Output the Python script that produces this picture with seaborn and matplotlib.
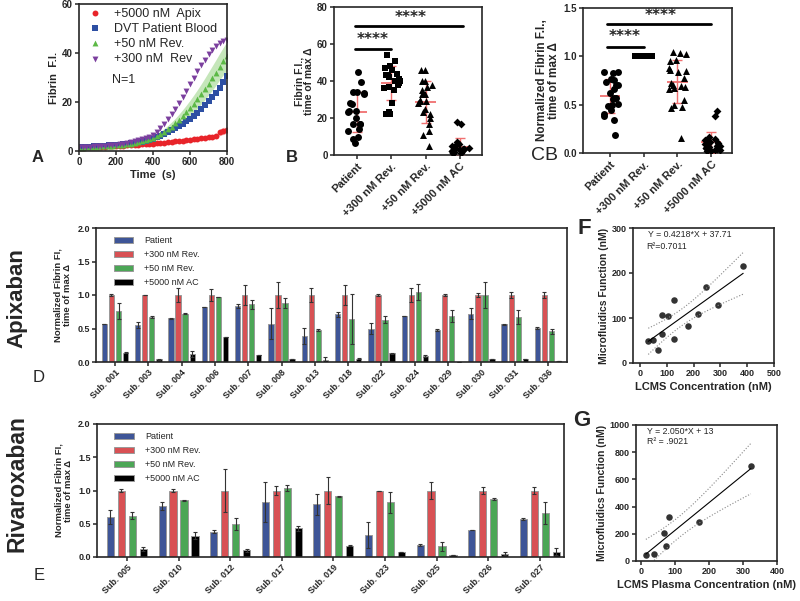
import numpy as np
import pandas as pd
import seaborn as sns
import matplotlib.pyplot as plt

sns.set_style("ticks")
plt.rcParams['font.family'] = ['Liberation Sans', 'DejaVu Sans']
plt.rcParams['font.weight'] = 'bold'
plt.rcParams['axes.labelweight'] = 'bold'
plt.rcParams['axes.linewidth'] = 1.2

# ---------------- Panel A: time course (N=1) ----------------
time_s = list(range(0, 801, 20))
apix_5000 = [1.3, 1.4, 1.5, 1.6, 1.6, 1.7, 1.8, 1.8, 1.9, 2.0, 2.0, 2.1, 2.2, 2.3, 2.4, 2.5,
             2.6, 2.7, 2.8, 2.9, 3.0, 3.1, 3.3, 3.4, 3.5, 3.7, 3.9, 4.0, 4.2, 4.4, 4.6, 4.8,
             5.0, 5.2, 5.4, 5.6, 5.8, 6.1, 7.6, 8.2, 8.4]
apix_5000_sd = [0.2] * 20 + [0.3] * 17 + [0.5, 1.4, 1.5, 1.2]
dvt_blood = [1.5, 1.6, 1.7, 1.8, 1.9, 2.0, 2.1, 2.2, 2.3, 2.4, 2.5, 2.6, 2.8, 2.9, 3.1, 3.3,
             3.5, 3.8, 4.1, 4.5, 5.0, 5.6, 6.2, 6.9, 7.6, 8.4, 9.2, 10.1, 11.1, 12.1, 13.2,
             14.4, 15.7, 17.1, 18.6, 20.3, 22.0, 23.8, 25.8, 28.0, 30.5]
rev_50 = [1.3, 1.4, 1.5, 1.6, 1.7, 1.8, 1.9, 2.0, 2.1, 2.2, 2.3, 2.5, 2.6, 2.8, 3.0, 3.2,
          3.5, 3.9, 4.3, 4.8, 5.4, 6.1, 6.9, 7.8, 8.9, 10.0, 11.3, 12.7, 14.2, 15.8, 17.5,
          19.3, 21.2, 23.2, 25.3, 27.5, 29.7, 32.0, 34.4, 36.7, 38.8]
rev_50_sd = [0.1] * 16 + [0.2, 0.3, 0.4, 0.5, 0.7, 0.9, 1.1, 1.3, 1.5, 1.8, 2.0, 2.3, 2.6,
                          2.9, 3.2, 3.5, 3.8, 4.1, 4.4, 4.7, 5.0, 5.2, 5.4, 5.6, 5.8]
rev_300 = [1.5, 1.6, 1.7, 1.8, 1.9, 2.0, 2.1, 2.2, 2.3, 2.4, 2.6, 2.8, 3.0, 3.3, 3.6, 4.0,
           4.4, 4.8, 5.3, 5.9, 6.6, 7.8, 9.3, 11.0, 12.9, 15.0, 17.2, 19.6, 22.0, 24.6, 27.3,
           30.0, 32.6, 35.0, 37.3, 39.4, 41.2, 42.8, 44.0, 44.8, 45.2]

# ---------------- Panels B / C: scatter dot plots ----------------
groups = ['Patient', '+300 nM Rev.', '+50 nM Rev.', '+5000 nM AC']
b_patient = [45, 39.5, 34, 34, 33, 33.5, 28, 27.5, 24, 24, 23, 20, 17, 17, 16.5, 14, 13, 10, 8.5, 6.5]
b_rev300 = [54, 51, 48, 47, 46, 44, 43, 43, 42, 41, 40, 40, 39, 38, 37, 36, 35, 28, 23, 22, 22]
b_rev50 = [46, 46, 40, 40, 38, 37, 35, 33, 33, 30, 29, 29, 28, 25, 23, 22, 20, 17, 13, 11, 5]
b_ac = [18, 17, 7, 6, 5, 5, 4, 4, 3, 3, 3, 2.5, 2, 2, 2, 1.5, 1.5, 1, 1, 1]

c_patient = [0.84, 0.84, 0.83, 0.77, 0.76, 0.73, 0.70, 0.70, 0.66, 0.62, 0.57, 0.57, 0.56,
             0.51, 0.50, 0.49, 0.45, 0.40, 0.38, 0.34, 0.19]
c_rev300 = [1.0] * 21
c_rev50 = [1.04, 1.03, 1.02, 0.96, 0.95, 0.88, 0.86, 0.85, 0.84, 0.78, 0.72, 0.70, 0.69,
           0.68, 0.67, 0.66, 0.55, 0.50, 0.48, 0.47, 0.16]
c_ac = [0.43, 0.38, 0.17, 0.15, 0.13, 0.12, 0.11, 0.10, 0.09, 0.08, 0.07, 0.07, 0.06, 0.05,
        0.05, 0.04, 0.03, 0.03, 0.02, 0.02]

# ---------------- Panel D: Apixaban subjects ----------------
apix_subjects = ['Sub. 001', 'Sub. 003', 'Sub. 004', 'Sub. 006', 'Sub. 007', 'Sub. 008', 'Sub. 013',
                 'Sub. 018', 'Sub. 022', 'Sub. 024', 'Sub. 029', 'Sub. 030', 'Sub. 031', 'Sub. 036']
apix_pat = [0.57, 0.55, 0.65, 0.82, 0.83, 0.57, 0.39, 0.71, 0.50, 0.69, 0.48, 0.72, 0.56, 0.51]
apix_pat_sd = [0.0, 0.04, 0.01, 0.0, 0.03, 0.23, 0.12, 0.04, 0.08, 0.0, 0.02, 0.08, 0.01, 0.01]
apix_r300 = [1.0] * 14
apix_r300_sd = [0.02, 0.0, 0.1, 0.09, 0.15, 0.19, 0.11, 0.15, 0.01, 0.1, 0.02, 0.03, 0.04, 0.05]
apix_r50 = [0.76, 0.67, 0.72, 0.97, 0.86, 0.88, 0.48, 0.64, 0.63, 1.04, 0.69, 1.0, 0.67, 0.46]
apix_r50_sd = [0.12, 0.02, 0.01, 0.0, 0.07, 0.07, 0.01, 0.37, 0.05, 0.12, 0.09, 0.2, 0.1, 0.04]
apix_ac = [0.14, 0.04, 0.12, 0.38, 0.10, 0.05, 0.03, 0.05, 0.13, 0.09, 0.0, 0.04, 0.04, 0.02]
apix_ac_sd = [0.01, 0.01, 0.04, 0.0, 0.0, 0.0, 0.05, 0.01, 0.01, 0.01, 0.0, 0.0, 0.0, 0.0]

# ---------------- Panel E: Rivaroxaban subjects ----------------
riva_subjects = ['Sub. 005', 'Sub. 010', 'Sub. 012', 'Sub. 017', 'Sub. 019', 'Sub. 023',
                 'Sub. 025', 'Sub. 026', 'Sub. 027']
riva_pat = [0.60, 0.76, 0.38, 0.83, 0.79, 0.33, 0.18, 0.41, 0.57]
riva_pat_sd = [0.10, 0.06, 0.02, 0.30, 0.16, 0.19, 0.01, 0.0, 0.01]
riva_r300 = [1.0] * 9
riva_r300_sd = [0.02, 0.03, 0.33, 0.07, 0.20, 0.0, 0.13, 0.06, 0.05]
riva_r50 = [0.62, 0.85, 0.50, 1.04, 0.91, 0.82, 0.16, 0.87, 0.66]
riva_r50_sd = [0.05, 0.01, 0.09, 0.04, 0.01, 0.16, 0.07, 0.01, 0.17]
riva_ac = [0.12, 0.32, 0.10, 0.43, 0.17, 0.08, 0.03, 0.05, 0.08]
riva_ac_sd = [0.03, 0.05, 0.02, 0.04, 0.01, 0.0, 0.0, 0.02, 0.05]

# ---------------- Panels F / G: correlation ----------------
f_lcms = [31, 50, 68, 81, 81, 106, 127, 127, 180, 218, 245, 292, 385]
f_micro = [49, 51, 30, 106, 64, 104, 139, 54, 83, 109, 170, 129, 216]
g_lcms = [14, 37, 68, 73, 82, 170, 323]
g_micro = [44, 51, 204, 110, 321, 289, 698]

bar_colors = ['#2f4ea6', '#ee3b3f', '#3db54a', '#000000']
line_red = '#f07070'

fig = plt.figure(figsize=(8, 6.01), dpi=100)


def rect(l, t, r, b):
    return [l / 800, 1 - b / 601, (r - l) / 800, (b - t) / 601]


def style_ax(ax, size=7):
    ax.tick_params(axis='both', direction='out', length=3, width=1.1, labelsize=size, pad=1.5)
    for s in ax.spines.values():
        s.set_linewidth(1.2)


# ---- A ----
axA = fig.add_axes(rect(79, 4, 227, 151))
axA.fill_between(time_s, np.array(rev_50) - rev_50_sd, np.array(rev_50) + rev_50_sd,
                 color='#9fd68c', alpha=0.6, lw=0)
axA.fill_between(time_s, np.array(apix_5000) - apix_5000_sd, np.array(apix_5000) + apix_5000_sd,
                 color='#f4a0a0', alpha=0.6, lw=0)
for vals, col, mk, lab in [(apix_5000, '#e8242a', 'o', '+5000 nM  Apix'),
                           (dvt_blood, '#2d4fa3', 's', 'DVT Patient Blood'),
                           (rev_50, '#5cb946', '^', '+50 nM Rev.'),
                           (rev_300, '#7b3f9e', 'v', '+300 nM  Rev')]:
    sns.scatterplot(x=time_s, y=vals, color=col, marker=mk, s=18, linewidth=0, label=lab, ax=axA)
axA.set_xlim(0, 800)
axA.set_ylim(0, 60)
axA.set_xticks([0, 200, 400, 600, 800])
axA.set_yticks([0, 20, 40, 60])
axA.set_xlabel('Time  (s)', fontsize=8, labelpad=2)
axA.set_ylabel('Fibrin  F.I.', fontsize=8, labelpad=2)
axA.legend(loc='upper left', frameon=False, prop={'size': 9, 'weight': 'normal'},
           handletextpad=0.5, labelspacing=0.25, borderaxespad=0.0,
           bbox_to_anchor=(-0.01, 1.01), markerscale=1.0)
axA.text(0.22, 0.46, 'N=1', transform=axA.transAxes, fontsize=9, fontweight='normal')
style_ax(axA)

# ---- B / C ----
markers = ['o', 's', '^', 'D']
np.random.seed(3)


def dot_panel(ax, data_lists, msize):
    for i, (vals, m) in enumerate(zip(data_lists, markers)):
        sns.stripplot(x=[groups[i]] * len(vals), y=vals, order=groups, marker=m, color='black',
                      size=msize if m != 'D' else msize - 1, jitter=0.27, ax=ax, zorder=6)
        mean = np.mean(vals)
        sd = np.std(vals, ddof=1)
        ax.hlines(mean, i - 0.3, i + 0.3, color=line_red, lw=1.3, zorder=5)
        ax.errorbar(i, mean, yerr=sd, fmt='none', ecolor=line_red, elinewidth=1.0,
                    capsize=3.5, capthick=1.0, zorder=5)


axB = fig.add_axes(rect(334, 7, 482, 155))
dot_panel(axB, [b_patient, b_rev300, b_rev50, b_ac], 5)
axB.set_xlim(-0.67, 3.64)
axB.set_ylim(0, 80)
axB.set_yticks([0, 20, 40, 60, 80])
axB.plot([-0.05, 1.0], [57.5, 57.5], color='black', lw=2)
axB.plot([-0.05, 3.1], [69.6, 69.6], color='black', lw=2)
axB.text(0.47, 62.5, '****', ha='center', va='center', fontsize=11, family='DejaVu Sans')
axB.text(1.55, 74.5, '****', ha='center', va='center', fontsize=11, family='DejaVu Sans')
axB.set_ylabel('Fibrin F.I.,\ntime of max Δ', fontsize=7.5, labelpad=2, linespacing=1.0)
style_ax(axB)
axB.tick_params(axis='x', labelsize=8)
plt.setp(axB.get_xticklabels(), rotation=45, ha='right', rotation_mode='anchor')

axC = fig.add_axes(rect(583, 8, 732, 153))
dot_panel(axC, [c_patient, c_rev300, c_rev50, c_ac], 5)
axC.set_xlim(-0.8, 3.62)
axC.set_ylim(0, 1.5)
axC.set_yticks([0, 0.5, 1.0, 1.5])
axC.set_yticklabels(['0.0', '0.5', '1.0', '1.5'])
axC.plot([-0.1, 1.0], [1.1, 1.1], color='black', lw=2)
axC.plot([-0.1, 3.0], [1.33, 1.33], color='black', lw=2)
axC.text(0.45, 1.2, '****', ha='center', va='center', fontsize=11, family='DejaVu Sans')
axC.text(1.5, 1.42, '****', ha='center', va='center', fontsize=11, family='DejaVu Sans')
axC.set_ylabel('Normalized Fibrin F.I.,\ntime of max Δ', fontsize=8.5, labelpad=2, linespacing=1.0)
style_ax(axC)
axC.tick_params(axis='x', labelsize=8)
plt.setp(axC.get_xticklabels(), rotation=45, ha='right', rotation_mode='anchor')


# ---- D / E bar charts ----
def bar_frame(subjects, means, sds):
    rows = []
    for g, m_list, s_list in zip(groups, means, sds):
        for sub, m, s in zip(subjects, m_list, s_list):
            rows.append((sub, g, m, s))
    return pd.DataFrame(rows, columns=['subject', 'group', 'value', 'sd'])


def bar_panel(ax, df, gap):
    sns.barplot(data=df, x='subject', y='value', hue='group', hue_order=groups,
                palette=bar_colors, width=0.85, gap=gap, errorbar=None,
                edgecolor='#999999', linewidth=0.7, ax=ax)
    for cont, g in zip(ax.containers, groups):
        sd = df[df.group == g]['sd'].values
        xs = [p.get_x() + p.get_width() / 2 for p in cont]
        hs = [p.get_height() for p in cont]
        ax.errorbar(xs, hs, yerr=sd, fmt='none', ecolor='#333333', elinewidth=0.8,
                    capsize=1.5, capthick=0.8)
    ax.set_ylim(0, 2.0)
    ax.set_yticks([0, 0.5, 1.0, 1.5, 2.0])
    ax.set_yticklabels(['0.0', '0.5', '1.0', '1.5', '2.0'])
    ax.set_xlabel('')
    ax.set_ylabel('Normalized Fibrin FI,\ntime of max Δ', fontsize=6.8, labelpad=4, linespacing=1.0)
    ax.legend(loc='upper left', frameon=False, prop={'size': 6.5, 'weight': 'normal'},
              handlelength=2.2, handleheight=0.6, labelspacing=0.55, borderaxespad=0.5,
              bbox_to_anchor=(0.02, 1.0), handletextpad=1.2)
    style_ax(ax, 6.5)
    plt.setp(ax.get_xticklabels(), rotation=45, ha='right', rotation_mode='anchor')


axD = fig.add_axes(rect(96, 228, 567, 362))
dfD = bar_frame(apix_subjects, [apix_pat, apix_r300, apix_r50, apix_ac],
                [apix_pat_sd, apix_r300_sd, apix_r50_sd, apix_ac_sd])
bar_panel(axD, dfD, 0.25)
axD.set_xlim(-0.57, 13.57)

axE = fig.add_axes(rect(97, 424, 564, 557))
dfE = bar_frame(riva_subjects, [riva_pat, riva_r300, riva_r50, riva_ac],
                [riva_pat_sd, riva_r300_sd, riva_r50_sd, riva_ac_sd])
bar_panel(axE, dfE, 0.35)
axE.set_xlim(-0.58, 8.47)


# ---- F / G regressions ----
def reg_panel(ax, xv, yv, tcrit):
    sns.regplot(x=xv, y=yv, ci=None, color='black', scatter_kws={'s': 22, 'linewidths': 0},
                line_kws={'lw': 0.8}, ax=ax)
    x = np.asarray(xv, float)
    y = np.asarray(yv, float)
    slope, icpt = np.polyfit(x, y, 1)
    n = len(x)
    s = np.sqrt(np.sum((y - (slope * x + icpt)) ** 2) / (n - 2))
    xs = np.linspace(x.min(), x.max(), 100)
    half = tcrit * s * np.sqrt(1 / n + (xs - x.mean()) ** 2 / np.sum((x - x.mean()) ** 2))
    ax.plot(xs, slope * xs + icpt + half, ls=':', color='#888888', lw=0.8)
    ax.plot(xs, slope * xs + icpt - half, ls=':', color='#888888', lw=0.8)
    style_ax(ax, 6.5)


axF = fig.add_axes(rect(633, 228, 774, 363))
reg_panel(axF, f_lcms, f_micro, 2.201)
axF.set_xlim(-26, 500)
axF.set_ylim(0, 300)
axF.set_xticks([0, 100, 200, 300, 400, 500])
axF.set_yticks([0, 100, 200, 300])
axF.set_xlabel('LCMS Concentration (nM)', fontsize=8, labelpad=3)
axF.set_ylabel('Microfluidics Function (nM)', fontsize=7.5, labelpad=2)
axF.text(0.105, 0.95, 'Y = 0.4218*X + 37.71', transform=axF.transAxes, fontsize=6.3,
         fontweight='normal', va='center')
axF.text(0.095, 0.86, 'R²=0.7011', transform=axF.transAxes, fontsize=6.3,
         fontweight='normal', va='center')

axG = fig.add_axes(rect(636, 425, 777, 561))
reg_panel(axG, g_lcms, g_micro, 2.571)
axG.set_xlim(-15, 400)
axG.set_ylim(0, 1000)
axG.set_xticks([0, 100, 200, 300, 400])
axG.set_yticks([0, 200, 400, 600, 800, 1000])
axG.set_xlabel('LCMS Plasma Concentration (nM)', fontsize=8, labelpad=3)
axG.set_ylabel('Microfluidics Function (nM)', fontsize=7.5, labelpad=2)
axG.text(0.08, 0.95, 'Y = 2.050*X + 13', transform=axG.transAxes, fontsize=6.3,
         fontweight='normal', va='center')
axG.text(0.08, 0.877, 'R² = .9021', transform=axG.transAxes, fontsize=6.3,
         fontweight='normal', va='center')

# ---- panel letters and drug names ----
def ftext(x, y, s, **kw):
    fig.text(x / 800, 1 - y / 601, s, ha='center', va='center', **kw)


ftext(38, 158, 'A', fontsize=12, fontweight='bold')
ftext(292, 158, 'B', fontsize=12, fontweight='bold')
ftext(545, 155, 'CB', fontsize=14, fontweight='normal')
ftext(39, 378, 'D', fontsize=12, fontweight='normal')
ftext(39, 575, 'E', fontsize=12, fontweight='normal')
ftext(584, 229, 'F', fontsize=16, fontweight='bold')
ftext(582, 421, 'G', fontsize=16, fontweight='bold')
ftext(17, 298, 'Apixaban', fontsize=16, fontweight='bold', rotation=90)
ftext(17, 484, 'Rivaroxaban', fontsize=16.5, fontweight='bold', rotation=90)

fig.savefig('out.png', dpi=100)
